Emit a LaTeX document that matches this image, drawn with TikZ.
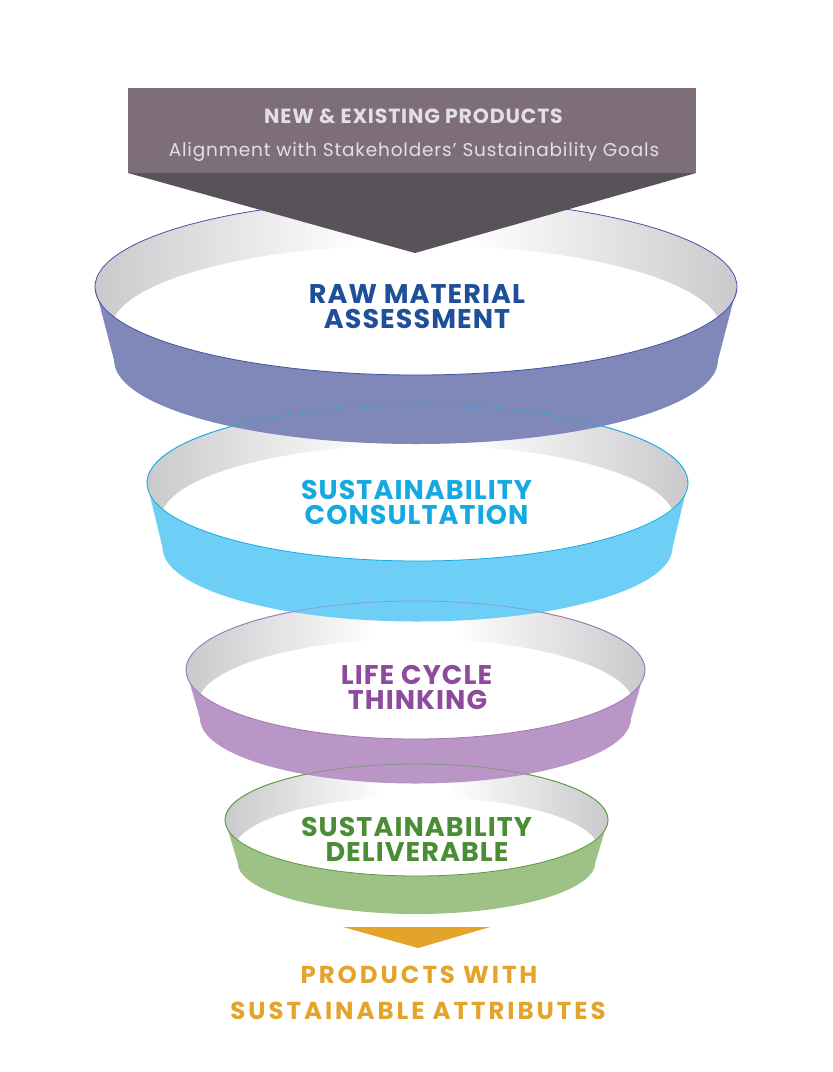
\documentclass[tikz,border=0pt]{standalone}
\usepackage{fontspec}
\setmainfont{Poppins}
\definecolor{ringg}{HTML}{CACACD}
\definecolor{bannerc}{HTML}{7E6E79}
\definecolor{trianglec}{HTML}{5A525A}
\definecolor{bannertext}{HTML}{E3E0E3}
\definecolor{bandA}{HTML}{7F88B9}\definecolor{lineA}{HTML}{4354A3}\definecolor{textA}{HTML}{1F4F98}
\definecolor{bandB}{HTML}{6DCFF6}\definecolor{lineB}{HTML}{1AABE3}\definecolor{textB}{HTML}{14A9E1}
\definecolor{bandC}{HTML}{BA96C7}\definecolor{lineC}{HTML}{A07AB2}\definecolor{textC}{HTML}{8E4B9D}
\definecolor{bandD}{HTML}{9EC286}\definecolor{lineD}{HTML}{5A9945}\definecolor{textD}{HTML}{4B8D35}
\definecolor{orangec}{HTML}{E4A329}
\pgfdeclarehorizontalshading{ringgray}{100bp}{color(0bp)=(ringg); color(25bp)=(ringg); color(46bp)=(white); color(54bp)=(white); color(75bp)=(ringg); color(100bp)=(ringg)}
% cx cy rx ry ci rxi ryi cb rxb
\newcommand{\funnelring}[9]{%
  \shade[shading=ringgray] (#1,-#2) ellipse[x radius=#3, y radius=#4];
  \begin{scope}
    \clip (#1,-#2) ellipse[x radius=#3, y radius=#4];
    \fill[white] (#1,-#5) ellipse[x radius=#6, y radius=#7];
  \end{scope}
  \fill[bandc] (#1-#3,-#2) arc[start angle=180,end angle=360,x radius=#3,y radius=#4]
     -- (#1+#9,-#8) arc[start angle=0,end angle=-180,x radius=#9,y radius=#4-4] -- cycle;
  \draw[linec, line width=0.8pt] (#1,-#2) ellipse[x radius=#3, y radius=#4];
}
\begin{document}
\begin{tikzpicture}[x=1pt,y=1pt,
  ringtext/.style={anchor=base, inner sep=0pt, font=\bfseries\fontsize{27}{27}\selectfont\addfontfeature{LetterSpace=4}},
  outtext/.style={anchor=base, inner sep=0pt, text=orangec, font=\bfseries\fontsize{24.5}{24.5}\selectfont\addfontfeature{LetterSpace=12}}]
\fill[white] (0,0) rectangle (833,-1072);
\useasboundingbox (0,0) rectangle (833,-1072);

% rings, bottom to top
\colorlet{bandc}{bandD}\colorlet{linec}{lineD}
\funnelring{416.5}{820}{191.5}{56}{850}{182}{53}{862}{179}
\colorlet{bandc}{bandC}\colorlet{linec}{lineC}
\funnelring{415.5}{670}{229.5}{69}{705}{218}{66}{718.5}{215.5}
\colorlet{bandc}{bandB}\colorlet{linec}{lineB}
\funnelring{417.5}{483}{270.5}{78}{520}{257}{75}{547.5}{255}
\colorlet{bandc}{bandA}\colorlet{linec}{lineA}
\funnelring{416}{287}{321}{88}{330}{305}{85}{360}{302}

% back rims seen through the band above
\draw[lineB, line width=0.8pt, opacity=.6] (417.5+270.5,-483) arc[start angle=0,end angle=180,x radius=270.5,y radius=78];
\draw[lineC, line width=0.8pt, opacity=.6] (415.5+229.5,-670) arc[start angle=0,end angle=180,x radius=229.5,y radius=69];
\draw[lineD, line width=0.8pt, opacity=.6] (416.5+191.5,-820) arc[start angle=0,end angle=180,x radius=191.5,y radius=56];

% banner
\fill[bannerc] (128,-88) rectangle (696,-173);
\fill[trianglec] (128,-173) -- (696,-173) -- (415,-253) -- cycle;
\node[anchor=base, inner sep=0pt, text=bannertext, font=\bfseries\fontsize{20.5}{20.5}\selectfont\addfontfeature{LetterSpace=4}] (title) at (413.5,-123) {NEW \& EXISTING PRODUCTS};
\node[anchor=base, inner sep=0pt, text=bannertext, font=\fontsize{18.5}{18.5}\selectfont\addfontfeature{LetterSpace=4.5}] (subtitle) at (414,-156) {Alignment with Stakeholders’ Sustainability Goals};

% ring labels
\node[ringtext, text=textA] (a1) at (417,-303) {RAW MATERIAL};
\node[ringtext, text=textA] (a2) at (417,-328) {ASSESSMENT};
\node[ringtext, text=textB] (b1) at (416.5,-499) {SUSTAINABILITY};
\node[ringtext, text=textB] (b2) at (416.5,-524) {CONSULTATION};
\node[ringtext, text=textC] (c1) at (416.5,-684) {LIFE CYCLE};
\node[ringtext, text=textC] (c2) at (417.5,-709) {THINKING};
\node[ringtext, text=textD] (d1) at (416.5,-836) {SUSTAINABILITY};
\node[ringtext, text=textD] (d2) at (417,-861) {DELIVERABLE};

% output arrow and label
\fill[orangec] (343,-927) -- (490,-927) -- (418,-948) -- cycle;
\node[outtext] (o1) at (419,-983) {PRODUCTS WITH};
\node[outtext] (o2) at (418,-1019) {SUSTAINABLE ATTRIBUTES};
\end{tikzpicture}
\end{document}
